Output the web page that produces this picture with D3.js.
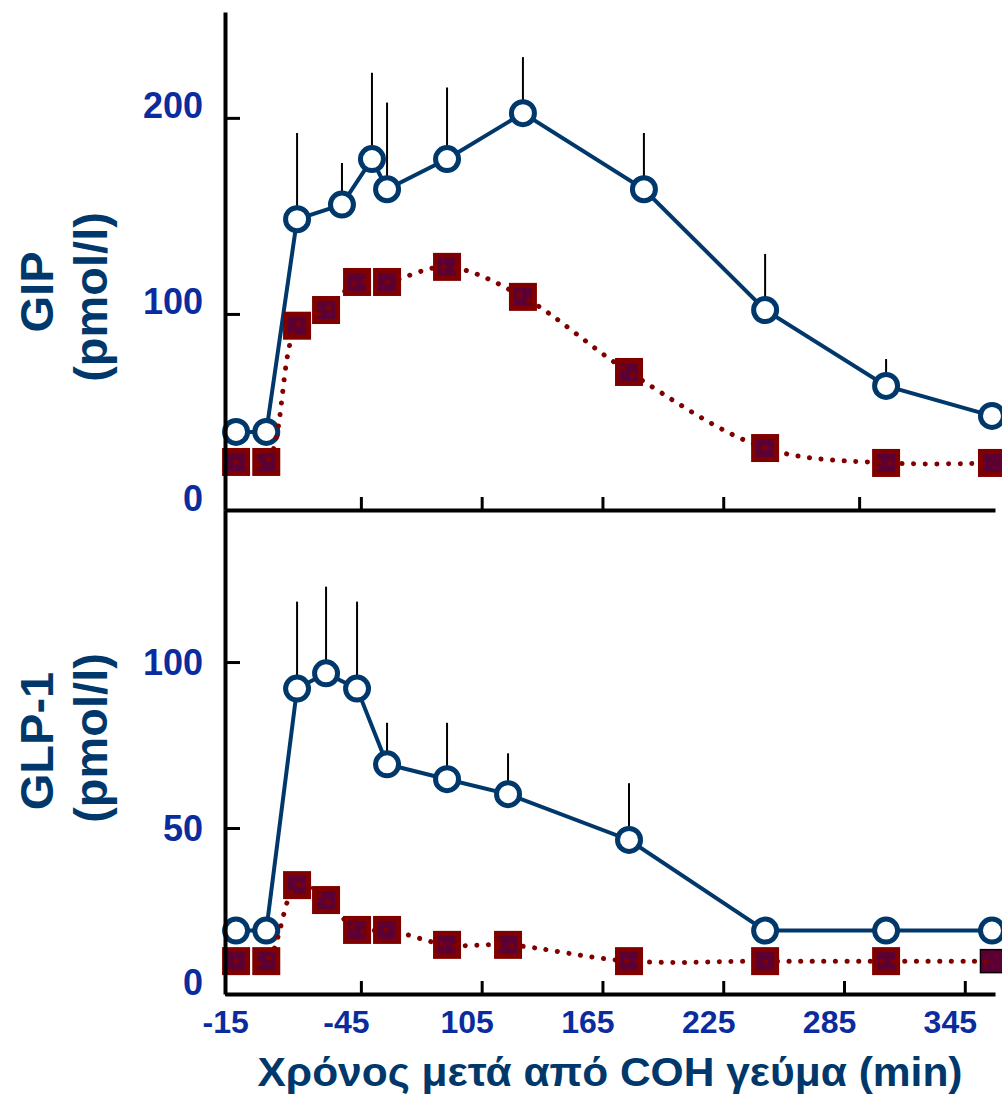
<!DOCTYPE html>
<html>
<head>
<meta charset="utf-8">
<script src="https://cdn.jsdelivr.net/npm/d3@7"></script>
<style>
body { margin: 0; background: white; }
text { font-family: Arial, "Liberation Sans", sans-serif; font-weight: bold; }
</style>
</head>
<body>
<script>
// GIP (top panel)
var gipTimes = [-17, -2, 13.3, 35.6, 50.5, 58, 87.8, 125.5, 185.6, 245.8, 305.9, 358.5];
var gipMeal = [39.8, 39.8, 148.3, 155.8, 179, 163.6, 179, 202.4, 163.6, 102, 63.3, 48];
var gipMealErr = [0, 0, 44, 21.2, 44, 44.2, 36.5, 28.6, 28.7, 28.6, 13.7, 0];
var gipCtrlTimes = [-17, -2, 13.3, 27.7, 43.1, 58, 87.8, 125.5, 178.2, 245.8, 305.9, 358.5];
var gipCtrl = [24.5, 24.5, 94, 102, 116.3, 116.3, 124, 108.7, 70.4, 31.6, 24, 24];

// GLP-1 (bottom panel)
var glpTimes = [-17, -2, 13.3, 27.7, 43.1, 58, 87.8, 118.1, 178.2, 245.8, 305.9, 358.5];
var glpMeal = [19.1, 19.1, 92, 96.6, 92, 69.2, 64.7, 60.2, 46.4, 19.1, 19.1, 19.1];
var glpMealErr = [0, 0, 26.2, 26.1, 26.2, 12.5, 17, 12.3, 17.1, 0, 0, 0];
var glpCtrl = [9.9, 9.9, 32.8, 28.3, 19.3, 19.3, 14.8, 14.8, 9.9, 9.9, 9.9, 9.9];

// axes
var xTickValues = [-15, 45, 105, 165, 225, 285, 345];
var xTickLabels = ["-15", "-45", "105", "165", "225", "285", "345"];
var xTopTicks = [45, 105, 165, 225, 292.5];
var gipTicks = [0, 100, 200];
var glpTicks = [0, 50, 100];

var NAVY = "#00386b";
var RED = "#800000";
var TICKBLUE = "#0b2c9e";

var svg = d3.select("body").append("svg")
    .attr("width", 1002)
    .attr("height", 1097);

var x = d3.scaleLinear().domain([-22.5, 360]).range([225, 995]);
var yGip = d3.scaleLinear().domain([0, 254]).range([510, 12]);
var yGlp = d3.scaleLinear().domain([0, 145.8]).range([994, 510]);


function styleAxis(g) {
    g.select(".domain").attr("stroke", "black").attr("stroke-width", 4);
    g.selectAll(".tick line").attr("stroke", "black").attr("stroke-width", 3);
    g.selectAll(".tick text")
        .attr("fill", TICKBLUE)
        .style("font-size", "36px")
        .style("font-weight", "bold");
}


function drawYAxis(y, ticks, labelDy) {
    var g = svg.append("g")
        .attr("transform", "translate(225,0)")
        .call(d3.axisLeft(y).tickValues(ticks).tickSize(-15).tickSizeOuter(0).tickPadding(22));
    styleAxis(g);
    g.selectAll(".tick text").attr("dy", labelDy);
}


function drawXAxes() {
    var top = svg.append("g")
        .attr("transform", "translate(0,510)")
        .call(d3.axisBottom(x).tickValues(xTopTicks).tickSize(-13).tickSizeOuter(0).tickFormat(""));
    styleAxis(top);

    var bottom = svg.append("g")
        .attr("transform", "translate(0,994)")
        .call(d3.axisBottom(x).tickValues(xTickValues).tickSize(-13).tickSizeOuter(0).tickPadding(16)
            .tickFormat(function(d, i) { return xTickLabels[i]; }));
    styleAxis(bottom);
    bottom.selectAll(".tick text").style("font-size", "32px").attr("dx", -15);
    // no tick mark at the origin
    bottom.selectAll(".tick").filter(function(d) { return d === -15; }).select("line").remove();
}


function drawPanel(times, meal, err, ctrlTimes, ctrl, y, blackLast) {
    var g = svg.append("g");

    g.selectAll(".err")
        .data(meal.map(function(m, i) { return {t: times[i], m: m, e: err[i]}; })
            .filter(function(d) { return d.e > 0; }))
        .enter().append("line")
        .attr("class", "err")
        .attr("x1", function(d) { return x(d.t); })
        .attr("x2", function(d) { return x(d.t); })
        .attr("y1", function(d) { return y(d.m); })
        .attr("y2", function(d) { return y(d.m + d.e); })
        .attr("stroke", "black")
        .attr("stroke-width", 2);

    var blueLine = d3.line()
        .x(function(d, i) { return x(times[i]); })
        .y(function(d) { return y(d); });
    g.append("path")
        .attr("d", blueLine(meal))
        .attr("fill", "none")
        .attr("stroke", NAVY)
        .attr("stroke-width", 4);

    g.selectAll(".meal")
        .data(meal)
        .enter().append("circle")
        .attr("class", "meal")
        .attr("cx", function(d, i) { return x(times[i]); })
        .attr("cy", function(d) { return y(d); })
        .attr("r", 11.5)
        .attr("fill", "white")
        .attr("stroke", NAVY)
        .attr("stroke-width", 5);

    g.selectAll(".ctrl")
        .data(ctrl)
        .enter().append("rect")
        .attr("class", "ctrl")
        .attr("x", function(d, i) { return x(ctrlTimes[i]) - 11.5; })
        .attr("y", function(d) { return y(d) - 11.5; })
        .attr("width", 23)
        .attr("height", 23)
        .attr("fill", "#5c0034")
        .attr("stroke", function(d, i) { return blackLast && i === ctrl.length - 1 ? "black" : RED; })
        .attr("stroke-width", function(d, i) { return blackLast && i === ctrl.length - 1 ? 1.5 : 5; });

    var redLine = d3.line()
        .curve(d3.curveCatmullRom.alpha(0.5))
        .x(function(d, i) { return x(ctrlTimes[i]); })
        .y(function(d) { return y(d); });
    g.append("path")
        .attr("d", redLine(ctrl))
        .attr("fill", "none")
        .attr("stroke", RED)
        .attr("stroke-width", 5)
        .attr("stroke-linecap", "round")
        .attr("stroke-dasharray", "0.1,11.5");
}


function drawLabels() {
    var labels = [
        {text: "GIP", x: 53, y: 292},
        {text: "(pmol/l)", x: 107, y: 297},
        {text: "GLP-1", x: 53, y: 741},
        {text: "(pmol/l)", x: 107, y: 738},
    ];
    svg.selectAll(".ylab")
        .data(labels)
        .enter().append("text")
        .attr("class", "ylab")
        .attr("transform", function(d) { return "translate(" + d.x + "," + d.y + ") rotate(-90)"; })
        .attr("text-anchor", "middle")
        .attr("fill", NAVY)
        .style("font-size", "47px")
        .text(function(d) { return d.text; });

    svg.append("text")
        .attr("x", 610)
        .attr("y", 1086)
        .attr("text-anchor", "middle")
        .attr("fill", NAVY)
        .attr("textLength", 705)
        .attr("lengthAdjust", "spacingAndGlyphs")
        .style("font-size", "40px")
        .text("Χρόνος μετά από COH γεύμα (min)");
}


drawPanel(gipTimes, gipMeal, gipMealErr, gipCtrlTimes, gipCtrl, yGip, false);
drawPanel(glpTimes, glpMeal, glpMealErr, glpTimes, glpCtrl, yGlp, true);
drawYAxis(yGip, gipTicks, "0");
drawYAxis(yGlp, glpTicks, function(d) { return d === 0 ? "0" : "0.35em"; });
drawXAxes();
drawLabels();
</script>
</body>
</html>
